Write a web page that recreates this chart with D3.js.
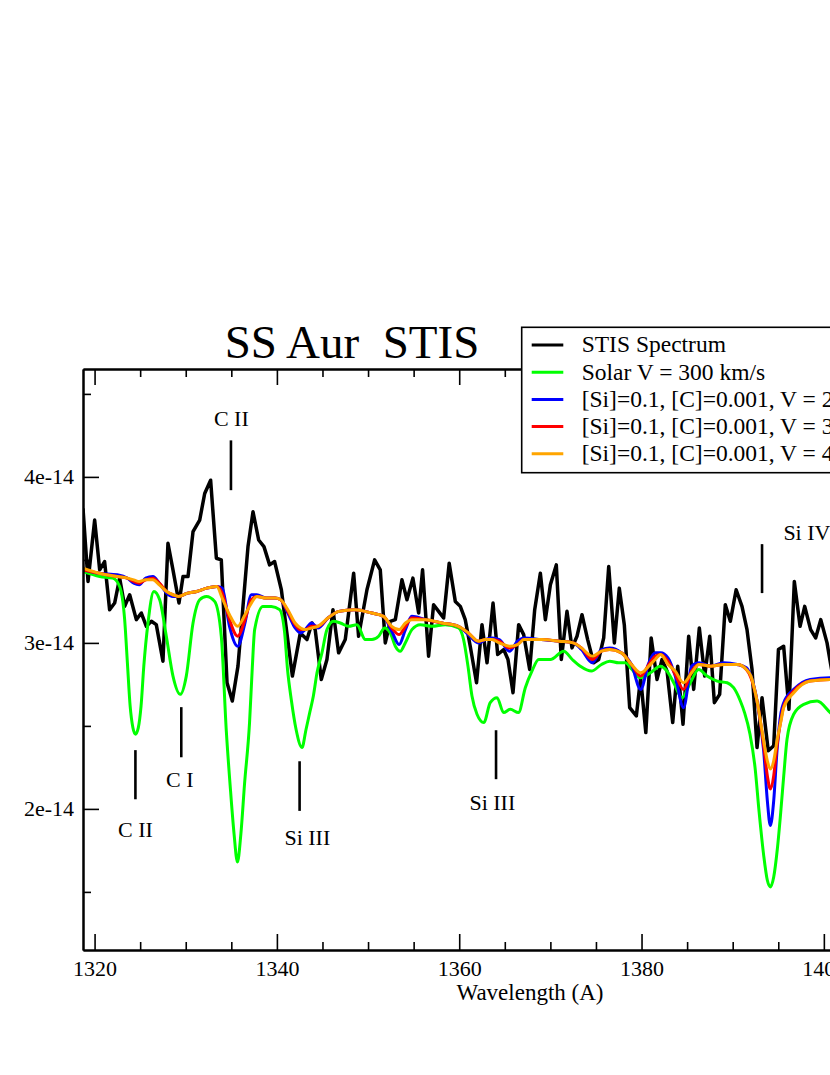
<!DOCTYPE html>
<html>
<head>
<meta charset="utf-8">
<script src="https://cdn.jsdelivr.net/npm/d3@7"></script>
<style>
  body { margin: 0; background: #fff; }
  svg { display: block; }
</style>
</head>
<body>
<div id="chart"></div>
<script>
// flux values are in units of 1e-14
var stisWl = [1318.73, 1319.28, 1320.01, 1320.56, 1321.1, 1321.65, 1322.2, 1322.75, 1323.3, 1323.85,
  1324.58, 1325.13, 1325.68, 1326.23, 1326.77, 1327.5, 1328.05, 1328.6, 1329.26, 1329.7,
  1330.25, 1330.8, 1331.53, 1332.08, 1332.73, 1333.36, 1333.9, 1334.53, 1335.11, 1335.73,
  1336.28, 1336.83, 1337.38, 1338.0, 1338.58, 1339.2, 1339.75, 1340.49, 1341.7, 1342.57,
  1343.3, 1343.85, 1344.2, 1344.87, 1345.49, 1346.15, 1346.77, 1347.5, 1348.42, 1348.96,
  1349.88, 1350.72, 1351.34, 1351.89, 1352.44, 1352.99, 1353.72, 1354.27, 1354.92, 1355.55,
  1355.98, 1356.64, 1357.19, 1357.74, 1358.29, 1358.9, 1359.57, 1360.12, 1360.66, 1361.21,
  1361.9, 1362.5, 1363.05, 1363.71, 1364.22, 1364.88, 1365.35, 1365.9, 1366.52, 1367.07,
  1367.73, 1368.28, 1368.9, 1369.45, 1370.0, 1370.65, 1371.2, 1371.82, 1372.37, 1372.92,
  1373.47, 1374.09, 1374.75, 1375.3, 1375.85, 1376.4, 1377.02, 1377.56, 1378.11, 1378.7,
  1379.43, 1379.9, 1380.47, 1381.06, 1381.7, 1382.25, 1382.8, 1383.42, 1383.97, 1384.55,
  1385.17, 1385.72, 1386.34, 1386.93, 1387.48, 1387.99, 1388.57, 1389.19, 1389.74, 1390.38,
  1391.02, 1391.57, 1392.12, 1392.67, 1393.22, 1393.9, 1394.5, 1395.02, 1395.59, 1396.17,
  1396.76, 1397.39, 1397.9, 1398.55, 1399.1, 1399.66, 1400.35, 1400.75, 1401.3];
var stisFlux = [3.81, 3.37, 3.74, 3.44, 3.49, 3.20, 3.24, 3.39, 3.22, 3.29,
  3.14, 3.18, 3.10, 3.13, 3.11, 2.89, 3.60, 3.44, 3.24, 3.40,
  3.40, 3.67, 3.74, 3.90, 3.98, 3.51, 3.50, 2.76, 2.65, 2.86,
  3.22, 3.58, 3.79, 3.62, 3.58, 3.47, 3.49, 3.32, 2.80, 3.06,
  3.02, 3.12, 3.08, 2.78, 2.90, 3.20, 2.94, 3.02, 3.42, 3.04,
  3.32, 3.50, 3.44, 3.00, 3.13, 3.14, 3.38, 3.26, 3.39, 3.18,
  3.44, 2.92, 3.23, 3.19, 3.15, 3.48, 3.25, 3.22, 3.14, 2.98,
  2.76, 3.11, 2.88, 3.24, 2.93, 2.96, 2.90, 2.70, 3.11, 3.05,
  2.84, 3.20, 3.42, 3.14, 3.35, 3.47, 2.90, 3.19, 2.97, 3.04,
  3.17, 3.02, 2.88, 2.90, 3.03, 3.46, 3.00, 3.33, 3.11, 2.61,
  2.56, 2.79, 2.46, 3.03, 2.78, 2.90, 2.83, 2.52, 2.86, 2.51,
  3.04, 2.72, 3.09, 2.80, 3.04, 2.64, 2.69, 3.23, 3.13, 3.32,
  3.22, 3.08, 2.84, 2.37, 2.67, 2.35, 2.38, 2.96, 2.98, 2.60,
  3.37, 3.10, 3.22, 3.08, 3.03, 3.14, 3.00, 2.87, 2.70];

var solarWl = [1318.73, 1320.56, 1322.0, 1322.75, 1323.3, 1323.6, 1323.9, 1324.2, 1324.48, 1324.8,
  1325.1, 1325.4, 1325.86, 1326.5, 1327.14, 1327.87, 1328.6, 1329.4, 1330.06, 1330.8,
  1331.53, 1332.26, 1333.17, 1333.9, 1334.45, 1334.9, 1335.3, 1335.67, 1336.05, 1336.45,
  1337.0, 1337.3, 1337.56, 1338.47, 1339.39, 1340.3, 1340.85, 1341.15, 1341.6, 1342.1,
  1342.75, 1343.2, 1343.6, 1344.0, 1344.4, 1344.94, 1345.49, 1346.22, 1346.95, 1347.87,
  1348.78, 1349.7, 1350.43, 1351.16, 1351.82, 1352.44, 1352.99, 1353.53, 1354.08, 1354.81,
  1355.73, 1357.0, 1358.47, 1359.93, 1360.48, 1360.96, 1361.4, 1361.95, 1362.7, 1363.4,
  1364.15, 1364.87, 1365.6, 1366.5, 1367.25, 1367.98, 1368.72, 1370.0, 1371.46, 1372.4,
  1373.28, 1374.5, 1375.6, 1376.5, 1377.5, 1378.22, 1378.95, 1379.87, 1380.97, 1382.06,
  1382.8, 1383.53, 1384.44, 1385.35, 1386.27, 1387.18, 1388.3, 1389.4, 1390.1, 1390.84,
  1391.3, 1391.9, 1392.45, 1392.9, 1393.4, 1393.8, 1394.13, 1394.5, 1394.9, 1395.3,
  1395.6, 1395.96, 1396.69, 1397.8, 1399.26, 1400.7, 1401.3];
var solarFlux = [3.43, 3.40, 3.39, 3.34, 3.14, 2.88, 2.62, 2.49, 2.45, 2.49,
  2.62, 2.86, 3.12, 3.31, 3.26, 3.04, 2.80, 2.69, 2.80, 3.12,
  3.26, 3.28, 3.25, 3.04, 2.47, 2.12, 1.85, 1.68, 1.85, 2.15,
  2.52, 2.85, 3.08, 3.22, 3.22, 3.20, 3.06, 2.85, 2.65, 2.48,
  2.37, 2.48, 2.58, 2.68, 2.82, 2.94, 3.08, 3.13, 3.12, 3.10,
  3.11, 3.02, 3.02, 3.04, 3.09, 3.06, 2.98, 2.95, 3.00, 3.08,
  3.11, 3.10, 3.11, 3.09, 3.02, 2.86, 2.68, 2.57, 2.52, 2.64,
  2.67, 2.58, 2.60, 2.58, 2.73, 2.83, 2.90, 2.90, 2.95, 2.90,
  2.86, 2.83, 2.87, 2.89, 2.88, 2.88, 2.84, 2.79, 2.82, 2.86,
  2.83, 2.76, 2.67, 2.76, 2.84, 2.80, 2.77, 2.76, 2.73, 2.65,
  2.58, 2.45, 2.25, 1.98, 1.72, 1.57, 1.53, 1.59, 1.76, 2.00,
  2.20, 2.42, 2.57, 2.63, 2.65, 2.58, 2.55];

var modelWl = [1318.73, 1320.5, 1322.5, 1323.6, 1324.3, 1324.9, 1325.6, 1326.4, 1327.1, 1327.9,
  1328.6, 1329.2, 1330.2, 1331.2, 1332.3, 1333.4, 1334.0, 1334.8, 1335.7, 1336.5,
  1337.2, 1337.8, 1338.8, 1339.8, 1340.4, 1341.2, 1342.0, 1342.6, 1343.1, 1343.8,
  1344.5, 1345.6, 1346.8, 1348.5, 1350.4, 1351.7, 1352.6, 1353.4, 1354.1, 1354.8,
  1356.3, 1358.1, 1359.9, 1361.0, 1362.1, 1362.9, 1363.6, 1364.4, 1365.5, 1366.4,
  1367.1, 1369.0, 1371.0, 1372.5, 1373.4, 1374.6, 1375.6, 1376.5, 1377.8, 1378.9,
  1379.9, 1380.8, 1381.5, 1382.1, 1382.9, 1383.7, 1384.6, 1385.5, 1386.3, 1387.6,
  1389.0, 1390.5, 1391.5, 1392.0, 1392.67, 1393.4, 1393.8, 1394.13, 1394.5, 1394.86,
  1395.3, 1395.6, 1396.7, 1398.5, 1400.7, 1401.3];
var modelV200 = [3.44, 3.42, 3.41, 3.39, 3.36, 3.35, 3.39, 3.40, 3.36, 3.30,
  3.28, 3.28, 3.30, 3.31, 3.33, 3.34, 3.33, 3.10, 2.98, 3.12,
  3.29, 3.29, 3.27, 3.27, 3.26, 3.18, 3.09, 3.06, 3.08, 3.12,
  3.09, 3.15, 3.19, 3.20, 3.18, 3.16, 3.07, 2.99, 3.08, 3.16,
  3.14, 3.12, 3.10, 3.05, 3.00, 3.02, 3.03, 3.02, 2.95, 3.01,
  3.03, 3.02, 3.01, 3.00, 2.96, 2.88, 2.96, 2.97, 2.94, 2.87,
  2.72, 2.88, 2.94, 2.94, 2.91, 2.80, 2.61, 2.86, 2.88, 2.86,
  2.88, 2.87, 2.85, 2.80, 2.65, 2.35, 2.05, 1.90, 2.05, 2.35,
  2.58, 2.64, 2.72, 2.78, 2.79, 2.79];
var modelV300 = [3.44, 3.42, 3.40, 3.39, 3.37, 3.36, 3.38, 3.39, 3.36, 3.31,
  3.29, 3.28, 3.30, 3.31, 3.33, 3.34, 3.30, 3.14, 3.04, 3.14,
  3.26, 3.28, 3.27, 3.27, 3.26, 3.19, 3.11, 3.08, 3.08, 3.10,
  3.10, 3.15, 3.19, 3.20, 3.18, 3.16, 3.09, 3.05, 3.10, 3.15,
  3.14, 3.12, 3.10, 3.06, 3.01, 3.02, 3.02, 3.01, 2.97, 2.99,
  3.02, 3.02, 3.01, 3.00, 2.97, 2.90, 2.95, 2.96, 2.94, 2.87,
  2.80, 2.87, 2.92, 2.93, 2.89, 2.81, 2.72, 2.83, 2.87, 2.86,
  2.87, 2.87, 2.84, 2.79, 2.65, 2.38, 2.20, 2.12, 2.20, 2.38,
  2.54, 2.62, 2.71, 2.77, 2.78, 2.78];
var modelV400 = [3.45, 3.42, 3.40, 3.39, 3.38, 3.37, 3.38, 3.38, 3.35, 3.31,
  3.29, 3.28, 3.30, 3.31, 3.33, 3.34, 3.27, 3.17, 3.10, 3.17,
  3.24, 3.28, 3.27, 3.27, 3.26, 3.20, 3.12, 3.09, 3.08, 3.09,
  3.10, 3.15, 3.19, 3.20, 3.18, 3.16, 3.10, 3.08, 3.12, 3.14,
  3.14, 3.12, 3.10, 3.06, 3.01, 3.02, 3.02, 3.00, 2.98, 2.99,
  3.02, 3.02, 3.01, 3.00, 2.97, 2.92, 2.95, 2.96, 2.94, 2.87,
  2.82, 2.86, 2.90, 2.93, 2.87, 2.83, 2.76, 2.82, 2.87, 2.86,
  2.87, 2.87, 2.84, 2.80, 2.65, 2.41, 2.29, 2.24, 2.29, 2.41,
  2.53, 2.61, 2.70, 2.77, 2.78, 2.78];

var seriesNames = ["STIS Spectrum", "Solar V = 300 km/s",
  "[Si]=0.1, [C]=0.001, V = 200 km/s",
  "[Si]=0.1, [C]=0.001, V = 300 km/s",
  "[Si]=0.1, [C]=0.001, V = 400 km/s"];
var seriesColors = ["#000000", "#00ff00", "#0000ff", "#ff0000", "#ffa500"];

// line identifications: wavelength, marker flux range, label position
var lineLabels = ["C II", "C II", "C I", "Si III", "Si III", "Si IV"];
var lineWl = [1334.96, 1324.48, 1329.51, 1342.49, 1364.04, 1393.22];
var lineTop = [4.22, 2.354, 2.613, 2.287, 2.474, 3.595];
var lineBottom = [3.92, 2.058, 2.311, 1.988, 2.179, 3.30];
var labelWl = [1335.0, 1324.48, 1329.35, 1343.34, 1363.63, 1395.56];
var labelFlux = [4.305, 1.83, 2.13, 1.78, 1.992, 3.62];
var labelAnchor = ["middle", "middle", "middle", "middle", "middle", "start"];

var xMajor = [1320, 1340, 1360, 1380, 1400];
var xMinor = [1325, 1330, 1335, 1345, 1350, 1355, 1365, 1370, 1375, 1385, 1390, 1395, 1405, 1410, 1415];
var yMajor = [2, 3, 4];
var yMinor = [1.5, 2.5, 3.5, 4.5];

var fontName = "'Liberation Serif', 'Times New Roman', serif";

var W = 830, H = 1075;
var plotLeft = 83, plotRight = 977, plotTop = 369, plotBottom = 950;

var x = d3.scaleLinear().domain([1318.73, 1416.8]).range([plotLeft, plotRight]);
var y = d3.scaleLinear().domain([1.15, 4.65]).range([plotBottom, plotTop]);

var svg = d3.select("#chart").append("svg")
  .attr("width", W).attr("height", H)
  .style("font-family", fontName);

svg.append("rect").attr("width", W).attr("height", H).attr("fill", "#fff");

svg.append("clipPath").attr("id", "plotClip")
  .append("rect").attr("x", plotLeft).attr("y", plotTop)
  .attr("width", plotRight - plotLeft).attr("height", plotBottom - plotTop);

//build series as point lists
function zipSeries(wl, flux) {
  return wl.map(function (w, i) { return { x: w, y: flux[i] }; });
}
var series = [
  { pts: zipSeries(stisWl, stisFlux), curve: d3.curveLinear, width: 3.5 },
  { pts: zipSeries(solarWl, solarFlux), curve: d3.curveMonotoneX, width: 3 },
  { pts: zipSeries(modelWl, modelV200), curve: d3.curveMonotoneX, width: 3 },
  { pts: zipSeries(modelWl, modelV300), curve: d3.curveMonotoneX, width: 3 },
  { pts: zipSeries(modelWl, modelV400), curve: d3.curveMonotoneX, width: 3 }
];

var plot = svg.append("g").attr("clip-path", "url(#plotClip)");
series.forEach(function (s, i) {
  var line = d3.line()
    .x(function (d) { return x(d.x); })
    .y(function (d) { return y(d.y); })
    .curve(s.curve);
  plot.append("path")
    .datum(s.pts)
    .attr("d", line)
    .attr("fill", "none")
    .attr("stroke", seriesColors[i])
    .attr("stroke-width", s.width)
    .attr("stroke-linejoin", "round");
});

//axes, ticks pointing inward
function styleAxis(g) {
  g.selectAll("path.domain").attr("stroke", "#000").attr("stroke-width", 2);
  g.selectAll(".tick line").attr("stroke", "#000").attr("stroke-width", 1.6);
  g.selectAll(".tick text").attr("fill", "#000").style("font-size", "22px").style("font-family", fontName);
}

var gx = svg.append("g").attr("transform", "translate(0," + plotBottom + ")")
  .call(d3.axisBottom(x).tickValues(xMajor).tickSizeInner(-16).tickSizeOuter(0).tickPadding(10).tickFormat(d3.format("d")));
styleAxis(gx);
var gxm = svg.append("g").attr("transform", "translate(0," + plotBottom + ")")
  .call(d3.axisBottom(x).tickValues(xMinor).tickSizeInner(-8).tickSizeOuter(0).tickFormat(""));
styleAxis(gxm);

var gt = svg.append("g").attr("transform", "translate(0," + plotTop + ")")
  .call(d3.axisTop(x).tickValues(xMajor).tickSizeInner(-16).tickSizeOuter(0).tickFormat(""));
styleAxis(gt);
var gtm = svg.append("g").attr("transform", "translate(0," + plotTop + ")")
  .call(d3.axisTop(x).tickValues(xMinor).tickSizeInner(-8).tickSizeOuter(0).tickFormat(""));
styleAxis(gtm);

var gy = svg.append("g").attr("transform", "translate(" + plotLeft + ",0)")
  .call(d3.axisLeft(y).tickValues(yMajor).tickSizeInner(-16).tickSizeOuter(0).tickPadding(9)
    .tickFormat(function (d) { return d + "e-14"; }));
styleAxis(gy);
var gym = svg.append("g").attr("transform", "translate(" + plotLeft + ",0)")
  .call(d3.axisLeft(y).tickValues(yMinor).tickSizeInner(-8).tickSizeOuter(0).tickFormat(""));
styleAxis(gym);

var gr = svg.append("g").attr("transform", "translate(" + plotRight + ",0)")
  .call(d3.axisRight(y).tickValues(yMajor).tickSizeInner(-16).tickSizeOuter(0).tickFormat(""));
styleAxis(gr);

//axis title
svg.append("text")
  .attr("x", (plotLeft + plotRight) / 2).attr("y", 1000)
  .attr("text-anchor", "middle")
  .style("font-size", "23px")
  .text("Wavelength (A)");

//chart title
svg.append("text")
  .attr("x", 352).attr("y", 358)
  .attr("text-anchor", "middle")
  .style("font-size", "47px")
  .style("white-space", "pre")
  .text("SS Aur  STIS");

//line identification markers
var marks = svg.append("g");
lineLabels.forEach(function (lab, i) {
  marks.append("line")
    .attr("x1", x(lineWl[i])).attr("x2", x(lineWl[i]))
    .attr("y1", y(lineTop[i])).attr("y2", y(lineBottom[i]))
    .attr("stroke", "#000").attr("stroke-width", 2.6);
  marks.append("text")
    .attr("x", x(labelWl[i])).attr("y", y(labelFlux[i]))
    .attr("text-anchor", labelAnchor[i])
    .style("font-size", "22px")
    .text(lab);
});

//legend
var legend = svg.append("g").attr("transform", "translate(521.7,327.3)");
legend.append("rect")
  .attr("width", 480).attr("height", 145.4)
  .attr("fill", "#fff").attr("stroke", "#000").attr("stroke-width", 1.6);
seriesNames.forEach(function (name, i) {
  var ly = 17.7 + i * 27.2;
  legend.append("line")
    .attr("x1", 10).attr("x2", 41.6)
    .attr("y1", ly).attr("y2", ly)
    .attr("stroke", seriesColors[i]).attr("stroke-width", 3);
  legend.append("text")
    .attr("x", 60).attr("y", ly + 7.5)
    .style("font-size", "23.5px")
    .text(name);
});
</script>
</body>
</html>
